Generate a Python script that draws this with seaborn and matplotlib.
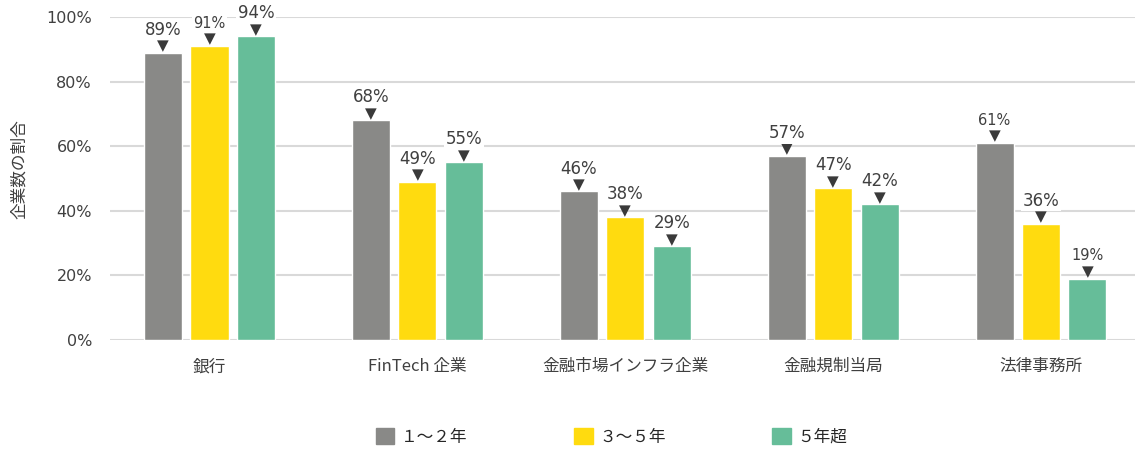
import matplotlib
matplotlib.use("Agg")
import matplotlib.pyplot as plt
import matplotlib.patches as mpatches
import seaborn as sns
import pandas as pd

# データ
categories = ["銀行", "FinTech 企業", "金融市場インフラ企業", "金融規制当局", "法律事務所"]
periods = ["１～２年", "３～５年", "５年超"]
v_1_2 = [89, 68, 46, 57, 61]
v_3_5 = [91, 49, 38, 47, 36]
v_5over = [94, 55, 29, 42, 19]
colors = ["#898987", "#FFDB0F", "#66BD99"]

rows = []
for p, vals in zip(periods, [v_1_2, v_3_5, v_5over]):
    for c, v in zip(categories, vals):
        rows.append({"category": c, "period": p, "value": v})
df = pd.DataFrame(rows)

sns.set_style("white")
plt.rcParams["font.family"] = ["DejaVu Sans", "Noto Sans CJK JP"]
txt = "#404040"
cjk = ["Noto Sans CJK JP", "DejaVu Sans"]

fig = plt.figure(figsize=(11.35, 4.5), dpi=100)
ax = fig.add_axes([110 / 1135, 110 / 450, 1 - 110 / 1135, 323 / 450])

sns.barplot(data=df, x="category", y="value", hue="period", hue_order=periods,
            palette=colors, width=0.67, gap=0.18, saturation=1, ax=ax,
            legend=False, errorbar=None, zorder=2)

ax.set_ylim(0, 100)
ax.set_xlim(-0.4786, 4.452)
ax.set_yticks(range(0, 101, 20))
ax.set_yticklabels([f"{t}%" for t in range(0, 101, 20)], fontsize=11.5,
                   color=txt, family="DejaVu Sans")
ax.yaxis.grid(True, color="#D9D9D9", lw=1.5, zorder=0)
ax.set_axisbelow(True)
for s in ax.spines.values():
    s.set_visible(False)
ax.tick_params(axis="x", length=0, pad=13)
ax.tick_params(axis="y", length=0, pad=13)
ax.set_xlabel("")
ax.set_xticks(range(len(categories)))
ax.set_xticklabels(categories, fontsize=12, color=txt, family=cjk)
ax.set_ylabel("企業数の割合", fontsize=12, color=txt, family=cjk)
ax.yaxis.set_label_coords(-0.08, 0.53)

small = {(0, 1), (4, 0), (4, 2)}
for hi, cont in enumerate(ax.containers):
    for ci, bar in enumerate(cont):
        x = bar.get_x() + bar.get_width() / 2
        h = bar.get_height()
        ax.annotate("▼", (x, h), xytext=(0, 5), textcoords="offset points",
                    ha="center", va="center", fontsize=11, color="#3a3a3a",
                    family="DejaVu Sans", annotation_clip=False, zorder=4)
        fs = 10.5 if (ci, hi) in small else 12
        ax.annotate(f"{int(round(h))}%", (x, h), xytext=(0, 16.5),
                    textcoords="offset points", ha="center", va="center",
                    fontsize=fs, color=txt, family="DejaVu Sans",
                    annotation_clip=False, zorder=4,
                    bbox=dict(boxstyle="square,pad=0.1", fc="white", ec="none"))

handles = [mpatches.Patch(color=c, label=p) for c, p in zip(colors, periods)]
fig.legend(handles=handles, loc="center", bbox_to_anchor=(0.539, 13 / 450),
           ncol=3, frameon=False, handlelength=1.1, handleheight=1.1,
           handletextpad=0.4, columnspacing=6.4,
           prop={"family": cjk, "size": 12})

fig.savefig("out.png", dpi=100)
